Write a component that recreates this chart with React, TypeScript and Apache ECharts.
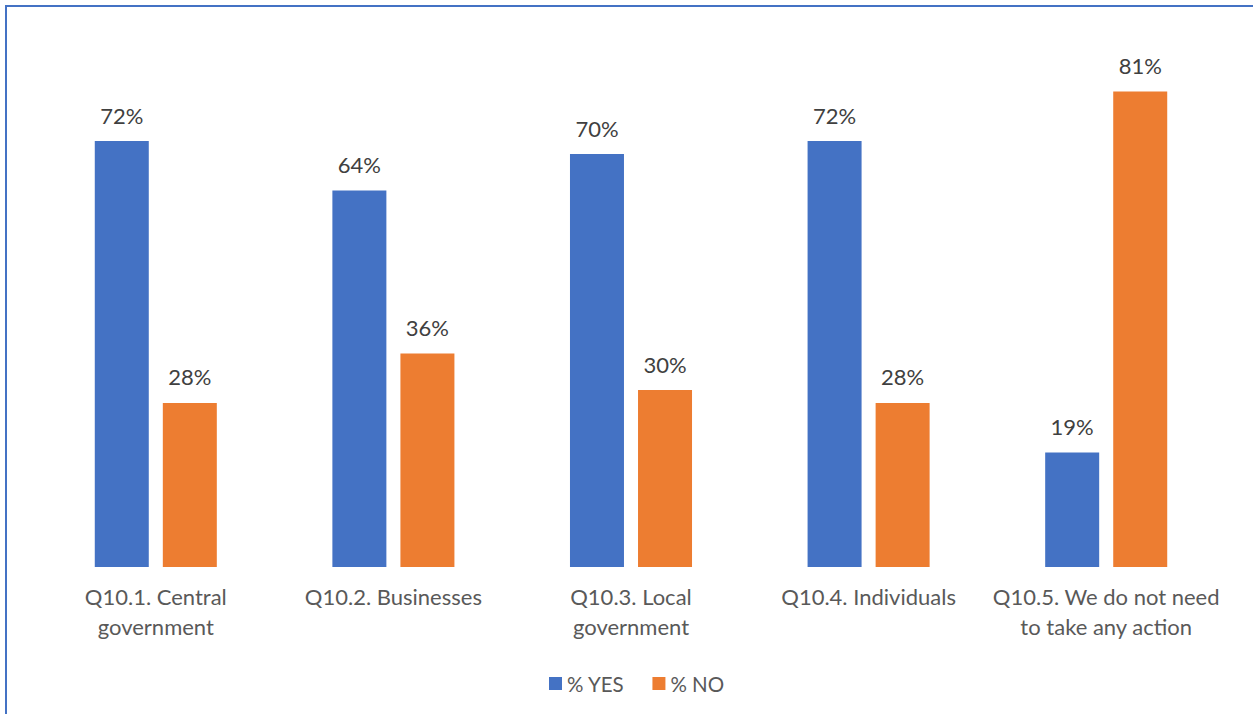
import React, { useEffect, useRef } from "react";
import * as echarts from "echarts";

const categories = [
  "Q10.1. Central\ngovernment",
  "Q10.2. Businesses",
  "Q10.3. Local\ngovernment",
  "Q10.4. Individuals",
  "Q10.5. We do not need\nto take any action",
];
const yesValues = [72.2, 63.8, 70.0, 72.2, 19.4];
const noValues = [27.8, 36.2, 30.0, 27.8, 80.6];
const seriesNames = ["% YES", "% NO"];

const FONT = "Lato, 'Open Sans', sans-serif";

export default function App() {
  const ref = useRef<HTMLDivElement>(null);
  useEffect(() => {
    if (!ref.current) return;
    const chart = echarts.init(ref.current, null, { renderer: "svg" });
    const label = {
      show: true,
      position: "top" as const,
      distance: 15,
      color: "#404040",
      fontSize: 22,
      fontFamily: FONT,
      formatter: (p: any) => Math.round(p.value) + "%",
    };
    chart.setOption({
      animation: false,
      backgroundColor: "#ffffff",
      textStyle: { fontFamily: FONT },
      grid: { left: 37, right: 28, top: 36, bottom: 147, containLabel: false },
      legend: {
        data: seriesNames,
        left: 544,
        top: 668,
        itemWidth: 13,
        itemHeight: 13,
        itemGap: 28,
        icon: "rect",
        textStyle: { color: "#595959", fontSize: 20.5, fontFamily: FONT },
      },
      xAxis: {
        type: "category",
        data: categories,
        axisLine: { show: false },
        axisTick: { show: false },
        axisLabel: {
          color: "#595959",
          fontSize: 22,
          fontFamily: FONT,
          lineHeight: 30,
          margin: 14,
          interval: 0,
          align: "center",
        },
      },
      yAxis: {
        type: "value",
        min: 0,
        max: 90,
        show: false,
        splitLine: { show: false },
      },
      graphic: [
        {
          type: "rect",
          shape: { x: 6, y: 6, width: 1262, height: 730 },
          style: { fill: "none", stroke: "#4472C4", lineWidth: 2 },
          silent: true,
        },
      ],
      series: [
        {
          name: seriesNames[0],
          type: "bar",
          data: yesValues,
          barWidth: 54,
          barGap: "26%",
          itemStyle: { color: "#4472C4" },
          label,
        },
        {
          name: seriesNames[1],
          type: "bar",
          data: noValues,
          barWidth: 54,
          itemStyle: { color: "#ED7D31" },
          label,
        },
      ],
    });
    return () => chart.dispose();
  }, []);
  return (
    <div
      ref={ref}
      style={{ position: "absolute", left: 0, top: 0, width: 1253, height: 714 }}
    />
  );
}
